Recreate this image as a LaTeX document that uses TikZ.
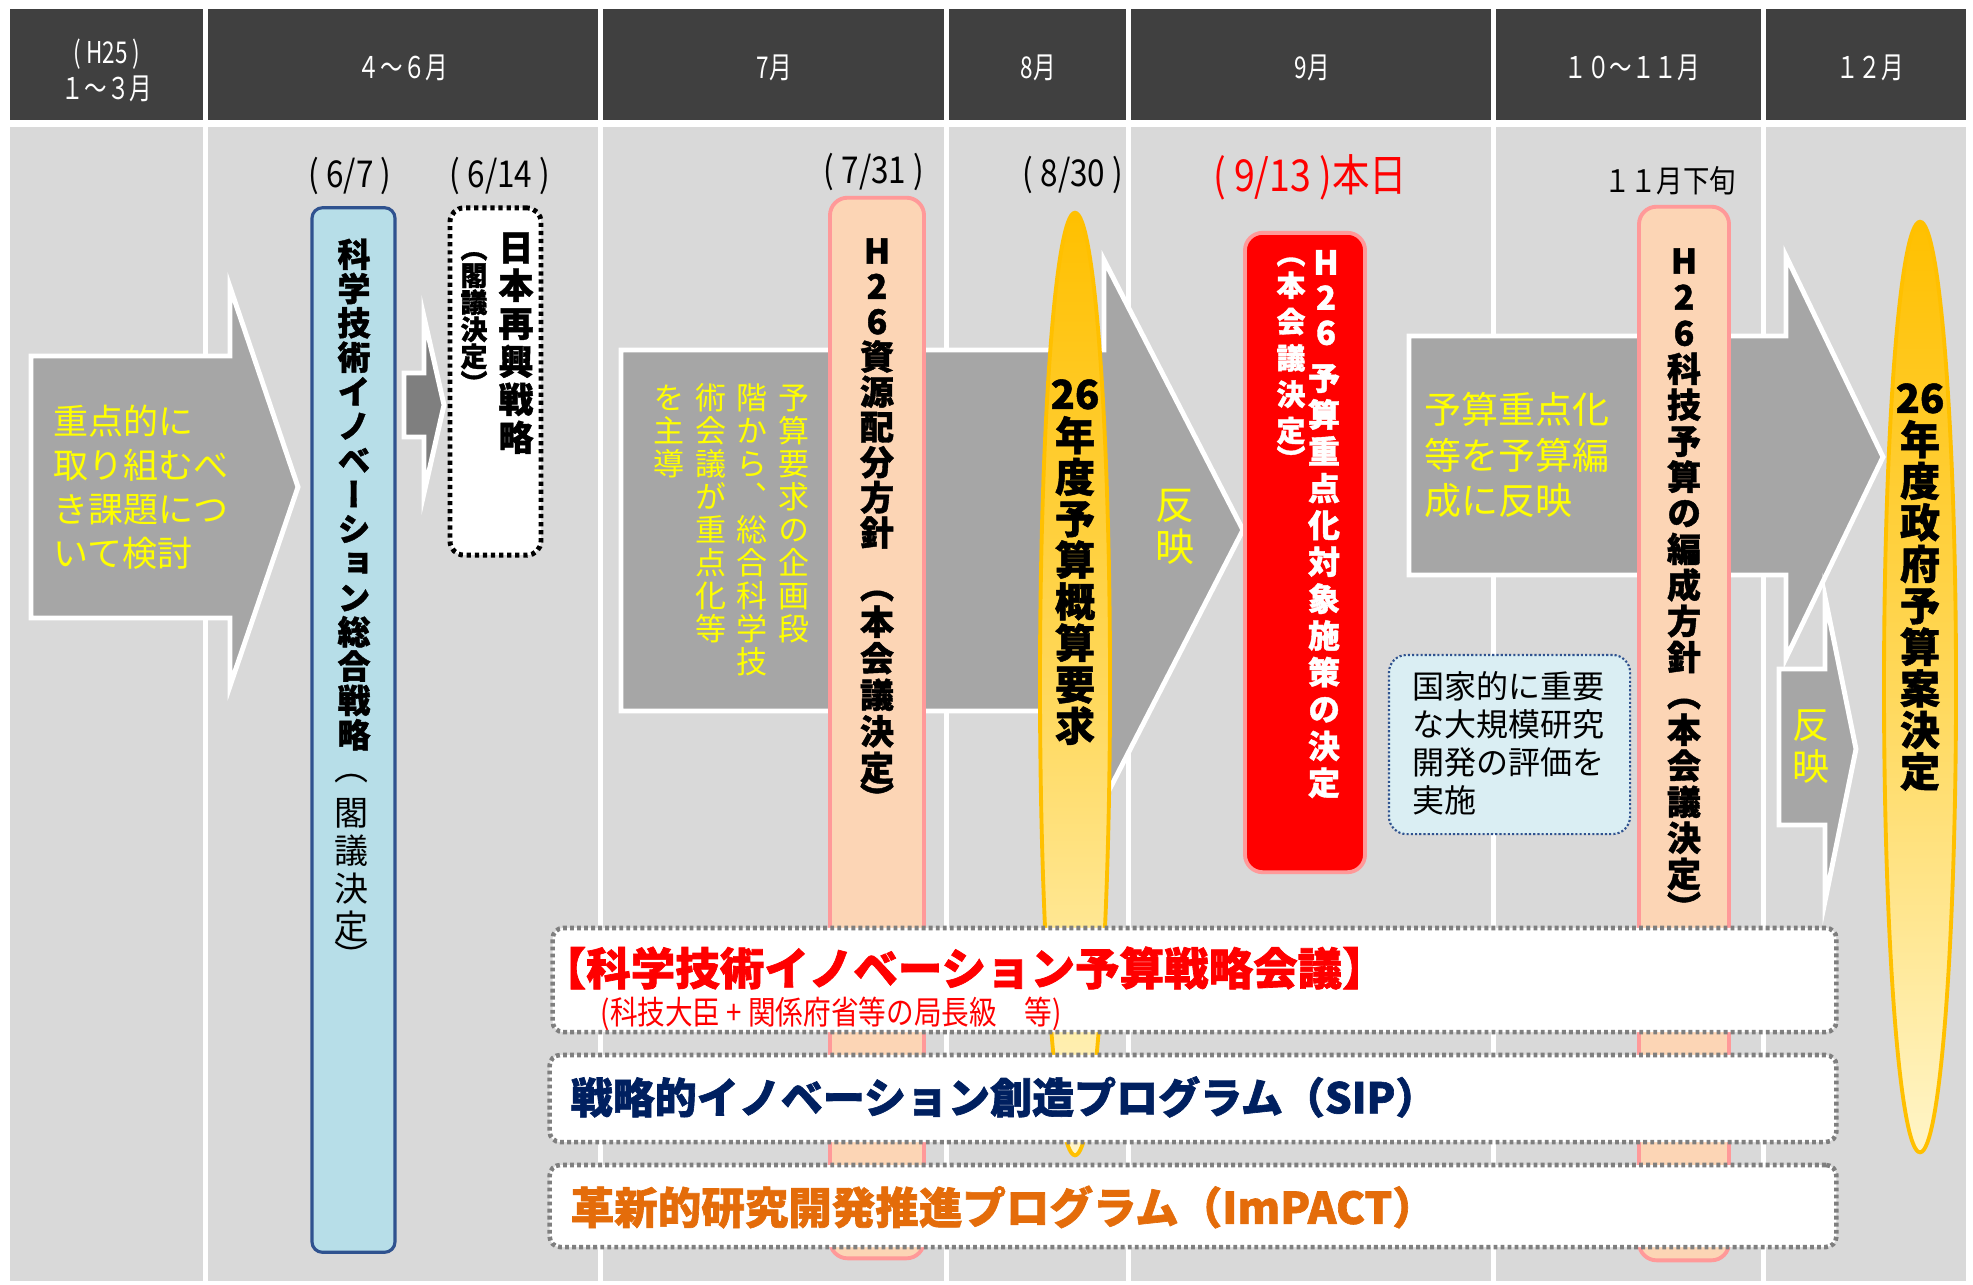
\documentclass[tikz,border=0pt]{standalone}
\usepackage{fontspec}
\setmainfont{Noto Sans CJK JP}
\newfontfamily\jpv[RawFeature=+vert]{Noto Sans CJK JP}
\newfontfamily\jpvh[RawFeature=+vert,FakeBold=1.2]{Noto Sans CJK JP}
\newfontfamily\jph[FakeBold=1.5]{Noto Sans CJK JP}
\newfontfamily\jpc[FakeStretch=0.75]{Noto Sans CJK JP}
\newfontfamily\jpcc[FakeStretch=0.85]{Noto Sans CJK JP}
\usetikzlibrary{shapes.geometric}
\definecolor{hdr}{HTML}{404040}
\definecolor{bodyg}{HTML}{D9D9D9}
\definecolor{arrg}{HTML}{A6A6A6}
\definecolor{arrd}{HTML}{7F7F7F}
\definecolor{ylw}{HTML}{FFFF00}
\definecolor{bluef}{HTML}{B7DEE8}
\definecolor{blued}{HTML}{2F528F}
\definecolor{salf}{HTML}{FCD5B5}
\definecolor{salb}{HTML}{FF9999}
\definecolor{flo}{HTML}{FFC000}
\definecolor{flp}{HTML}{FFF5C8}
\definecolor{lbf}{HTML}{DAEEF3}
\definecolor{navy}{HTML}{002060}
\definecolor{orng}{HTML}{E46C0A}
\definecolor{dotg}{HTML}{7F7F7F}
\makeatletter
\newcommand\VL[1]{\@tfor\V@c:=#1\do{\hbox to 2em{\hss\vrule height .88em depth .12em width 0pt\V@c\hss}}}
\makeatother
\newcommand\VB[1]{\vbox{\lineskiplimit=-\maxdimen\lineskip=0pt #1}}
\newcommand\fs[2]{\fontsize{\fpeval{#1*0.2845}pt}{\fpeval{#2*0.2845}pt}\selectfont}
\begin{document}
\begin{tikzpicture}[x=0.01cm,y=-0.01cm,
  arrowshape/.style={fill=arrg, draw=white, line width=1.4pt, line join=miter},
  vt/.style={inner sep=0pt, anchor=north},
  par/.style={inner sep=0pt, anchor=center},
  ytext/.style={text=ylw, inner sep=0pt},
  hdrtext/.style={text=white, font=\jpc\fs{30}{36}, inner sep=0pt},
  datetext/.style={font=\jpcc\fs{37}{40}, inner sep=0pt},
  bluebox/.style={draw=blued, fill=bluef, line width=0.9pt, rounded corners=3pt},
  salbox/.style={draw=salb, fill=salf, line width=1.1pt, rounded corners=5pt},
  redbox/.style={draw=salb, fill=red, line width=1.1pt, rounded corners=5pt},
  dotbox/.style={draw=black, fill=white, line width=1.4pt, dash pattern=on 1.2pt off 1.1pt, rounded corners=4pt},
  botbox/.style={draw=dotg, fill=white, line width=1.3pt, dash pattern=on 1.1pt off 0.9pt, rounded corners=3pt},
  lbbox/.style={draw=blued, fill=lbf, line width=0.6pt, dash pattern=on 0.6pt off 0.6pt, rounded corners=5pt},
  flame/.style={ellipse, draw=flo, line width=1.1pt, top color=flo, bottom color=flp, middle color=flo!55!flp, inner sep=0pt}]
\useasboundingbox (0,0) rectangle (1973,1284);
\fill[white] (0,0) rectangle (1973,1284);
% header and body columns
\foreach \a/\b in {10/203,208/598,603/944,949/1126,1131/1491,1496/1761,1766/1966}{
  \fill[hdr] (\a,9) rectangle (\b,120);
  \fill[bodyg] (\a,127) rectangle (\b,1281);
}
\node[hdrtext, align=center] (h1) at (107,70) {( H25 )\\１～３月};
\node[hdrtext] (h2) at (403,68) {４～６月};
\node[hdrtext] (h3) at (774,68) {7月};
\node[hdrtext] (h4) at (1038,68) {8月};
\node[hdrtext] (h5) at (1312,68) {9月};
\node[hdrtext] (h6) at (1632,68) {１０～１１月};
\node[hdrtext] (h7) at (1870,68) {１２月};
% dates
\node[datetext] (d1) at (350,176) {( 6/7 )};
\node[datetext] (d2) at (500,176) {( 6/14 )};
\node[datetext] (d3) at (874,172) {( 7/31 )};
\node[datetext] (d4) at (1073,175) {( 8/30 )};
\node[datetext, text=red, font=\jpcc\fs{44}{48}] (d5) at (1310,177) {( 9/13 )本日};
\node[datetext, font=\jpcc\fs{31}{36}] (d6) at (1670,181) {１１月下旬};
% big arrows
\draw[arrowshape] (31,356) -- (230,356) -- (230,287) -- (298,487) -- (230,686) -- (230,618) -- (31,618) -- cycle;
\draw[arrowshape] (621,350) -- (1104,350) -- (1104,260) -- (1243,530) -- (1104,800) -- (1104,711) -- (621,711) -- cycle;
\draw[arrowshape] (1409,336) -- (1786,336) -- (1786,256) -- (1883,457) -- (1786,658) -- (1786,575) -- (1409,575) -- cycle;
\draw[arrowshape, fill=arrd] (404,373) -- (424,373) -- (424,317) -- (444,405) -- (424,493) -- (424,437) -- (404,437) -- cycle;
\draw[arrowshape] (1779,669) -- (1825,669) -- (1825,597) -- (1856,749) -- (1825,901) -- (1825,825) -- (1779,825) -- cycle;
% arrow texts
\node[ytext, anchor=north west, align=left, font=\fs{35}{44}] (a1t) at (53,404) {重点的に\\取り組むべ\\き課題につ\\いて検討};
\node[vt, text=ylw, font=\jpv\fs{31}{33}] (a2c1) at (794,381) {\VB{\VL{予算要求の企画段}}};
\node[vt, text=ylw, font=\jpv\fs{31}{33}] (a2c2) at (752,381) {\VB{\VL{階から、総合科学技}}};
\node[vt, text=ylw, font=\jpv\fs{31}{33}] (a2c3) at (711,381) {\VB{\VL{術会議が重点化等}}};
\node[vt, text=ylw, font=\jpv\fs{31}{33}] (a2c4) at (669,381) {\VB{\VL{を主導}}};
\node[vt, text=ylw, font=\jpv\fs{39}{42}] (a2r) at (1175,484) {\VB{\VL{反映}}};
\node[ytext, anchor=north west, align=left, font=\fs{37}{45}] (a3t) at (1424,392) {予算重点化\\等を予算編\\成に反映};
\node[vt, text=ylw, font=\jpv\fs{37}{42}] (a4r) at (1811,705) {\VB{\VL{反映}}};
% blue strategy box
\node[bluebox, minimum width=0.83cm, minimum height=10.44cm] (sogo) at (353.5,730) {};
\node[vt, font=\jpvh\bfseries\fs{33}{34.3}] (sogoT) at (354,237) {\VB{\VL{科学技術イノベーション総合戦略}}};
\node[par, font=\jpv\fs{34}{34}] (sogoP1) at (352,779) {（};
\node[vt, font=\jpv\fs{34}{38}] (sogoS) at (352,795) {\VB{\VL{閣議決定}}};
\node[par, font=\jpv\fs{34}{34}] (sogoP2) at (352,955) {）};
% saiko box
\node[dotbox, minimum width=0.91cm, minimum height=3.47cm] (saiko) at (495.5,381.5) {};
\node[vt, font=\jpvh\bfseries\fs{35}{38}] (saikoT) at (516,229) {\VB{\VL{日本再興戦略}}};
\node[vt, font=\jpvh\bfseries\fs{27}{27}] (saikoS) at (474,234) {\VB{\VL{（閣議決定）}}};
% salmon 1
\node[salbox, minimum width=0.94cm, minimum height=10.6cm] (s1) at (877,728) {};
\node[vt, font=\jpvh\bfseries\fs{34}{35.2}] (s1T) at (877,233) {\VB{\VL{H26資源配分方針}}};
\node[par, font=\jpvh\bfseries\fs{34}{34}] (s1P1) at (877,596) {（};
\node[vt, font=\jpvh\bfseries\fs{34}{36.5}] (s1S) at (877,604) {\VB{\VL{本会議決定}}};
\node[par, font=\jpvh\bfseries\fs{34}{34}] (s1P2) at (877,797) {）};
% flame 1
\node[flame, minimum width=0.70cm, minimum height=9.42cm] (f1) at (1075,684) {};
\node[vt, font=\jpvh\bfseries\fs{40}{41.5}] (f1T) at (1075,373) {\VB{\VL{{26}年度予算概算要求}}};
% red box
\node[redbox, minimum width=1.2cm, minimum height=6.39cm] (rb) at (1305,552.5) {};
\node[vt, text=white, font=\jpvh\bfseries\fs{33}{35}] (rbH) at (1326,245) {\VB{\VL{H26}}};
\node[vt, text=white, font=\jpvh\bfseries\fs{32}{36.8}] (rbT) at (1324,361) {\VB{\VL{予算重点化対象施策の決定}}};
\node[par, text=white, font=\jpvh\bfseries\fs{29}{29}] (rbP1) at (1291,262) {（};
\node[vt, text=white, font=\jpvh\bfseries\fs{29}{36.3}] (rbS) at (1291,270) {\VB{\VL{本会議決定}}};
\node[par, text=white, font=\jpvh\bfseries\fs{29}{29}] (rbP2) at (1291,458) {）};
% light blue box
\node[lbbox, minimum width=2.41cm, minimum height=1.79cm] (lb) at (1509.5,744.5) {};
\node[anchor=north west, inner sep=0pt, align=left, font=\fs{32}{38}] (lbT) at (1412,671) {国家的に重要\\な大規模研究\\開発の評価を\\実施};
% salmon 2
\node[salbox, minimum width=0.9cm, minimum height=10.53cm] (s2) at (1684,733.5) {};
\node[vt, font=\jpvh\bfseries\fs{34}{36}] (s2T) at (1684,243) {\VB{\VL{H26科技予算の編成方針}}};
\node[par, font=\jpvh\bfseries\fs{34}{34}] (s2P1) at (1684,704) {（};
\node[vt, font=\jpvh\bfseries\fs{34}{36}] (s2S) at (1684,712) {\VB{\VL{本会議決定}}};
\node[par, font=\jpvh\bfseries\fs{34}{34}] (s2P2) at (1684,906) {）};
% flame 2
\node[flame, minimum width=0.72cm, minimum height=9.30cm] (f2) at (1920,687) {};
\node[vt, font=\jpvh\bfseries\fs{40}{41.5}] (f2T) at (1920,377) {\VB{\VL{{26}年度政府予算案決定}}};
% bottom boxes
\node[botbox, minimum width=12.83cm, minimum height=1.04cm] (bA) at (1194.5,980) {};
\node[anchor=west, inner sep=0pt, text=red, font=\jph\bfseries\fs{44.5}{48}] (bAT) at (541,968) {【科学技術イノベーション予算戦略会議】};
\node[anchor=west, inner sep=0pt, text=red, font=\jpcc\fs{32.5}{34}] (bAS) at (600,1014) {(科技大臣 + 関係府省等の局長級　等)};
\node[botbox, minimum width=12.86cm, minimum height=0.87cm] (bB) at (1193,1098.5) {};
\node[anchor=west, inner sep=0pt, text=navy, font=\jph\bfseries\fs{42}{48}] (bBT) at (570,1097) {戦略的イノベーション創造プログラム（SIP）};
\node[botbox, minimum width=12.86cm, minimum height=0.82cm] (bC) at (1193,1206) {};
\node[anchor=west, inner sep=0pt, text=orng, font=\jph\bfseries\fs{43.5}{48}] (bCT) at (570,1207) {革新的研究開発推進プログラム（ImPACT）};
\end{tikzpicture}
\end{document}
